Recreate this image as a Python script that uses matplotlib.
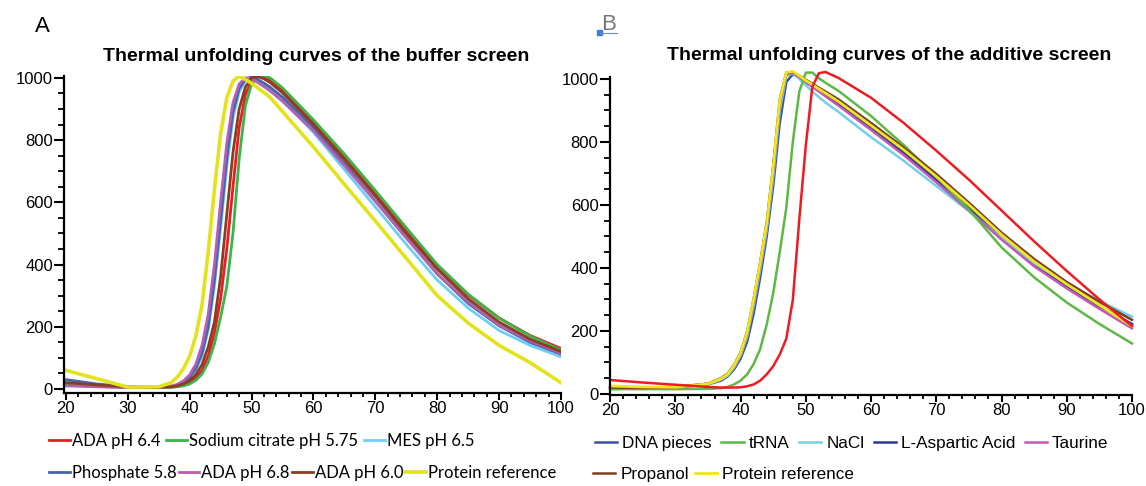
import matplotlib
matplotlib.use("Agg")
import matplotlib.pyplot as plt
from matplotlib.ticker import MultipleLocator
from matplotlib.patches import Rectangle
from matplotlib.lines import Line2D

plt.rcParams['font.family'] = 'Liberation Sans'

# temperature grid (deg C) shared by all curves
temps = [20, 25, 30, 35, 37, 38, 39, 40, 41, 42, 43, 44, 45, 46, 47, 48, 49, 50,
         51, 52, 53, 55, 60, 65, 70, 75, 80, 85, 90, 95, 100]

# panel A - buffer screen
a_labels = ["ADA pH 6.4", "Sodium citrate pH 5.75", "MES pH 6.5",
            "Phosphate 5.8", "ADA pH 6.8", "ADA pH 6.0", "Protein reference"]
a_ada64 = [15, 10, 6, 5, 6, 8, 13, 21, 36, 60, 105, 180, 290, 450, 650, 840, 945, 990,
           1005, 1002, 992, 960, 857, 745, 628, 510, 395, 302, 228, 172, 130]
a_citrate = [12, 8, 5, 4, 5, 7, 10, 16, 28, 48, 85, 145, 230, 330, 500, 740, 910, 980,
             1003, 1008, 1000, 968, 865, 755, 638, 518, 400, 305, 228, 170, 125]
a_mes = [22, 12, 6, 5, 8, 12, 20, 35, 60, 105, 190, 330, 515, 715, 870, 955, 990, 1000,
         990, 976, 962, 927, 825, 705, 585, 465, 350, 260, 188, 140, 103]
a_phosphate = [30, 16, 7, 5, 8, 13, 22, 38, 66, 115, 200, 350, 540, 740, 890, 965, 995, 1003,
               995, 983, 970, 938, 840, 725, 605, 487, 370, 275, 203, 150, 112]
a_ada68 = [10, 7, 4, 5, 9, 15, 26, 45, 80, 140, 240, 400, 600, 790, 920, 980, 1000, 998,
           985, 972, 958, 925, 830, 718, 603, 485, 370, 280, 205, 155, 115]
a_ada60 = [20, 13, 7, 6, 7, 10, 16, 27, 46, 78, 135, 215, 360, 560, 760, 900, 970, 1000,
           1005, 997, 985, 952, 850, 738, 620, 500, 385, 290, 215, 160, 120]
a_reference = [60, 33, 6, 7, 20, 38, 65, 105, 170, 270, 440, 640, 820, 935, 990, 1005, 995, 983,
               968, 953, 937, 892, 778, 658, 540, 420, 300, 212, 140, 85, 20]

# panel B - additive screen
b_labels = ["DNA pieces", "tRNA", "NaCl", "L-Aspartic Acid", "Taurine",
            "Propanol", "Protein reference"]
b_dna = [18, 17, 20, 30, 42, 55, 78, 112, 165, 255, 370, 500, 660, 860, 990, 1015, 1005, 990,
         977, 963, 950, 922, 845, 768, 683, 595, 500, 415, 345, 280, 220]
b_trna = [15, 15, 15, 16, 18, 22, 30, 42, 62, 95, 142, 220, 320, 450, 590, 800, 960, 1020,
          1020, 1002, 988, 962, 882, 790, 690, 585, 465, 370, 290, 222, 160]
b_nacl = [15, 18, 20, 30, 45, 58, 84, 122, 182, 280, 395, 520, 690, 900, 1010, 1018, 1000, 980,
          960, 942, 925, 895, 815, 740, 660, 580, 495, 415, 350, 295, 245]
b_aspartic = [22, 20, 21, 31, 46, 60, 86, 125, 185, 285, 400, 525, 700, 910, 1015, 1020, 1006, 991,
              977, 963, 950, 921, 843, 765, 680, 590, 497, 412, 342, 278, 222]
b_taurine = [20, 20, 22, 33, 48, 62, 88, 128, 190, 292, 408, 532, 710, 920, 1015, 1020, 1005, 990,
             975, 960, 945, 915, 838, 758, 672, 582, 490, 405, 335, 270, 208]
b_propanol = [20, 19, 21, 32, 50, 64, 92, 132, 198, 302, 418, 545, 725, 935, 1020, 1022, 1010, 997,
              985, 972, 960, 935, 860, 782, 698, 607, 512, 428, 355, 292, 235]
b_reference = [25, 22, 21, 32, 48, 62, 90, 130, 195, 300, 415, 540, 720, 930, 1020, 1024, 1010, 995,
               982, 968, 955, 928, 852, 775, 690, 600, 505, 420, 348, 282, 215]
# red curve in panel B has no legend entry
b_unlabelled = [44, 36, 29, 22, 20, 20, 20, 21, 24, 30, 42, 62, 88, 125, 175, 298, 555, 790,
                975, 1018, 1022, 1003, 940, 860, 772, 680, 582, 484, 390, 300, 215]

W, H = 1146, 486
fig = plt.figure(figsize=(W / 100, H / 100), dpi=100)

def px(x0, y0, x1, y1):
    return [x0 / W, 1 - y1 / H, (x1 - x0) / W, (y1 - y0) / H]

axA = fig.add_axes(px(64, 76, 561, 393))
axB = fig.add_axes(px(609.5, 77, 1132, 394.5))


def style(ax, ylo):
    ax.set_xlim(19.7, 100)
    ax.set_ylim(ylo, 1006)
    ax.spines[['top', 'right']].set_visible(False)
    for s in ('left', 'bottom'):
        ax.spines[s].set_linewidth(1.6)
    ax.xaxis.set_major_locator(MultipleLocator(10))
    ax.xaxis.set_minor_locator(MultipleLocator(2))
    ax.yaxis.set_major_locator(MultipleLocator(200))
    ax.yaxis.set_minor_locator(MultipleLocator(50))
    ax.tick_params(axis='x', which='major', length=5, width=1.5, pad=1, labelsize=12)
    ax.tick_params(axis='x', which='minor', length=3, width=1.3)
    ax.tick_params(axis='y', which='major', length=7, width=1.5, pad=1, labelsize=12)
    ax.tick_params(axis='y', which='minor', length=4, width=1.3)


style(axA, -13)
style(axB, -2)
axB.set_xlim(19.9, 100)

lw = 2.0
hA = {}
hA['ADA pH 6.4'], = axA.plot(temps, a_ada64, color='#ed1c24', lw=lw)
hA['Sodium citrate pH 5.75'], = axA.plot(temps, a_citrate, color='#39b54a', lw=lw)
hA['MES pH 6.5'], = axA.plot(temps, a_mes, color='#6dcff6', lw=lw)
hA['Phosphate 5.8'], = axA.plot(temps, a_phosphate, color='#4563b0', lw=lw)
hA['ADA pH 6.8'], = axA.plot(temps, a_ada68, color='#b55fb1', lw=lw)
hA['ADA pH 6.0'], = axA.plot(temps, a_ada60, color='#8b3e1f', lw=lw)
hA['Protein reference'], = axA.plot(temps, a_reference, color='#e3e31c', lw=2.6)

hB = {}
hB['DNA pieces'], = axB.plot(temps, b_dna, color='#3a53a4', lw=1.8, clip_on=False)
hB['L-Aspartic Acid'], = axB.plot(temps, b_aspartic, color='#2b3990', lw=1.8, clip_on=False)
hB['NaCl'], = axB.plot(temps, b_nacl, color='#74d0e8', lw=1.8, clip_on=False)
hB['Taurine'], = axB.plot(temps, b_taurine, color='#c158b8', lw=1.8, clip_on=False)
hB['tRNA'], = axB.plot(temps, b_trna, color='#5cb946', lw=1.8, clip_on=False)
hB['Propanol'], = axB.plot(temps, b_propanol, color='#7a3f1d', lw=1.8, clip_on=False)
hB['Protein reference'], = axB.plot(temps, b_reference, color='#f0e61a', lw=2.0, clip_on=False)
axB.plot(temps, b_unlabelled, color='#ed1c24', lw=1.8, clip_on=False)

axA.set_title("Thermal unfolding curves of the buffer screen", fontsize=14,
              fontweight='bold', x=0.507, pad=11)
axB.set_title("Thermal unfolding curves of the additive screen", fontsize=14,
              fontweight='bold', x=0.535, pad=12)

fig.text(35 / W, 1 - 27 / H, "A", fontsize=16, va='center', ha='left')
fig.text(601 / W, 1 - 25 / H, "B", fontsize=16, va='center', ha='left', color='#777777')
fig.patches.append(Rectangle((597 / W, 1 - 35 / H), 5 / W, 5 / H, color='#3b7ddd',
                             transform=fig.transFigure, figure=fig))
fig.lines.append(Line2D([600 / W, 617 / W], [1 - 33 / H, 1 - 33 / H], color='#6d8fd0',
                        lw=0.8, transform=fig.transFigure, figure=fig))


def legend_row(handles, labels, x, y, font, size, hl, tp, cs):
    fig.legend(handles, labels, loc='center left', bbox_to_anchor=(x / W, 1 - y / H),
               ncol=len(labels), frameon=False, borderpad=0, borderaxespad=0,
               handlelength=hl, handletextpad=tp, columnspacing=cs,
               prop={'family': font, 'size': size})


rowA1 = a_labels[:3]
rowA2 = a_labels[3:]
legend_row([hA[k] for k in rowA1], rowA1, 49, 441, 'Lato', 12, 1.25, 0.12, 0.35)
legend_row([hA[k] for k in rowA2], rowA2, 49, 473, 'Lato', 12, 1.25, 0.12, 0.12)

rowB1 = b_labels[:5]
rowB2 = b_labels[5:]
legend_row([hB[k] for k in rowB1], rowB1, 595, 443, 'Liberation Sans', 12.3, 1.3, 0.3, 0.55)
legend_row([hB[k] for k in rowB2], rowB2, 593, 474, 'Liberation Sans', 12.3, 1.3, 0.3, 0.35)

fig.savefig("out.png", dpi=100)
